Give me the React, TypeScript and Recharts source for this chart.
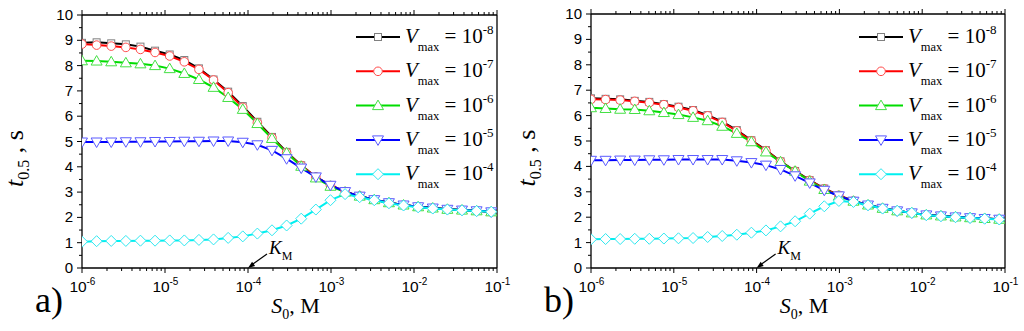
import React from 'react';
import {
  Label,
  Legend,
  Line,
  LineChart,
  ReferenceDot,
  XAxis,
  YAxis,
} from 'recharts';

// substrate concentration S0, M (same grid for both panels)
const s0 = [
  1e-6, 1.5e-6, 2.25e-6, 3.375e-6, 5.06e-6, 7.59e-6, 1.139e-5, 1.709e-5,
  2.563e-5, 3.844e-5, 5.767e-5, 8.65e-5, 1.297e-4, 1.946e-4, 2.919e-4,
  4.379e-4, 6.568e-4, 9.853e-4, 1.478e-3, 2.217e-3, 3.325e-3, 4.988e-3,
  7.482e-3, 1.122e-2, 1.683e-2, 2.525e-2, 3.788e-2, 5.682e-2, 8.523e-2,
];

// panel a) t0.5, s
const a8 = [8.9, 8.92, 8.88, 8.84, 8.75, 8.59, 8.44, 8.22, 7.89, 7.45, 6.97, 6.4, 5.78, 5.18, 4.59, 4.06, 3.6, 3.27, 3.02, 2.84, 2.7, 2.58, 2.49, 2.42, 2.37, 2.32, 2.29, 2.26, 2.22];
const a7 = [8.85, 8.81, 8.77, 8.72, 8.64, 8.52, 8.38, 8.15, 7.85, 7.43, 6.93, 6.35, 5.74, 5.15, 4.56, 4.05, 3.6, 3.26, 3.02, 2.84, 2.7, 2.58, 2.49, 2.42, 2.37, 2.32, 2.29, 2.26, 2.22];
const a6 = [8.19, 8.18, 8.15, 8.11, 8.07, 8.0, 7.88, 7.69, 7.45, 7.14, 6.74, 6.27, 5.71, 5.12, 4.55, 4.02, 3.56, 3.23, 3.0, 2.84, 2.7, 2.58, 2.49, 2.42, 2.37, 2.32, 2.29, 2.26, 2.22];
const a5 = [4.98, 4.98, 4.98, 4.99, 4.99, 5.0, 5.0, 5.01, 5.01, 5.02, 5.02, 4.97, 4.87, 4.65, 4.32, 3.95, 3.6, 3.27, 3.02, 2.84, 2.7, 2.58, 2.49, 2.42, 2.37, 2.32, 2.29, 2.26, 2.22];
const a4 = [1.04, 1.06, 1.07, 1.07, 1.08, 1.08, 1.09, 1.09, 1.11, 1.13, 1.19, 1.25, 1.36, 1.49, 1.68, 1.95, 2.31, 2.68, 2.92, 2.8, 2.68, 2.56, 2.47, 2.4, 2.35, 2.31, 2.28, 2.25, 2.22];

// panel b) t0.5, s
const b8 = [6.68, 6.66, 6.64, 6.58, 6.54, 6.45, 6.35, 6.22, 6.02, 5.76, 5.43, 5.03, 4.64, 4.2, 3.82, 3.46, 3.13, 2.86, 2.64, 2.48, 2.35, 2.25, 2.17, 2.09, 2.05, 2.01, 1.98, 1.95, 1.92];
const b7 = [6.64, 6.63, 6.61, 6.56, 6.51, 6.43, 6.32, 6.19, 5.99, 5.73, 5.4, 5.01, 4.62, 4.19, 3.81, 3.45, 3.12, 2.86, 2.64, 2.48, 2.35, 2.25, 2.17, 2.09, 2.05, 2.01, 1.98, 1.95, 1.92];
const b6 = [6.31, 6.28, 6.25, 6.24, 6.19, 6.12, 6.04, 5.93, 5.8, 5.58, 5.3, 4.97, 4.57, 4.18, 3.81, 3.42, 3.09, 2.83, 2.63, 2.48, 2.35, 2.25, 2.17, 2.09, 2.05, 2.01, 1.98, 1.95, 1.92];
const b5 = [4.24, 4.24, 4.25, 4.25, 4.26, 4.26, 4.27, 4.27, 4.27, 4.27, 4.22, 4.15, 4.05, 3.88, 3.63, 3.35, 3.06, 2.84, 2.63, 2.48, 2.35, 2.25, 2.17, 2.09, 2.05, 2.01, 1.98, 1.95, 1.92];
const b4 = [1.13, 1.14, 1.14, 1.15, 1.15, 1.16, 1.17, 1.18, 1.22, 1.26, 1.31, 1.39, 1.48, 1.64, 1.84, 2.14, 2.43, 2.64, 2.6, 2.47, 2.34, 2.25, 2.17, 2.08, 2.04, 2.0, 1.97, 1.94, 1.91];

const decades = [1e-6, 1e-5, 1e-4, 1e-3, 1e-2, 1e-1];
const xTicks = decades.flatMap((d, i) =>
  i === decades.length - 1 ? [d] : [1, 2, 3, 4, 5, 6, 7, 8, 9].map((m) => d * m)
);
const yTicks = [0, 0.5, 1, 1.5, 2, 2.5, 3, 3.5, 4, 4.5, 5, 5.5, 6, 6.5, 7, 7.5, 8, 8.5, 9, 9.5, 10];
const exponents = ['-8', '-7', '-6', '-5', '-4'];
const KM = 1e-4;

const SANS = '"Liberation Sans", Arial, sans-serif';
const SERIF = '"Liberation Serif", "Times New Roman", serif';

const Square = ({ cx, cy }: any) => (
  <rect x={cx - 3.5} y={cy - 3.5} width={7} height={7} fill="#fff" stroke="#808080" strokeWidth={1} />
);
const Circle = ({ cx, cy }: any) => (
  <circle cx={cx} cy={cy} r={4.3} fill="#fff" stroke="#ff4d4d" strokeWidth={1} />
);
const TriUp = ({ cx, cy }: any) => (
  <polygon points={`${cx},${cy - 5.5} ${cx + 5.5},${cy + 4} ${cx - 5.5},${cy + 4}`} fill="#fff" stroke="#44e044" strokeWidth={1} />
);
const TriDown = ({ cx, cy }: any) => (
  <polygon points={`${cx - 5.5},${cy - 4} ${cx + 5.5},${cy - 4} ${cx},${cy + 5.5}`} fill="#fff" stroke="#5a5aff" strokeWidth={1} />
);
const Diamond = ({ cx, cy }: any) => (
  <polygon points={`${cx},${cy - 5.5} ${cx + 5.5},${cy} ${cx},${cy + 5.5} ${cx - 5.5},${cy}`} fill="#fff" stroke="#2ee8f0" strokeWidth={1} />
);

const series = [
  { key: 'v8', color: '#000000', Marker: Square },
  { key: 'v7', color: '#ff0000', Marker: Circle },
  { key: 'v6', color: '#00dd00', Marker: TriUp },
  { key: 'v5', color: '#0000ff', Marker: TriDown },
  { key: 'v4', color: '#00f0f0', Marker: Diamond },
];

const isDecade = (v: number) => Math.abs(Math.log10(v) - Math.round(Math.log10(v))) < 1e-6;

const XTick = ({ x, y, payload, side }: any) => {
  const v = payload.value;
  const major = isDecade(v);
  const len = major ? 5 : 3;
  const dir = side === 'top' ? -1 : 1;
  return (
    <g>
      <line x1={x} y1={y} x2={x} y2={y + dir * len} stroke="#000" strokeWidth={1} />
      {major && side === 'bottom' && (
        <g fontFamily={SANS} fill="#000">
          <text x={x - 4} y={y + 24} textAnchor="middle" fontSize={15.5}>10</text>
          <text x={x + 4.5} y={y + 17} textAnchor="start" fontSize={10}>
            {String(Math.round(Math.log10(v)))}
          </text>
        </g>
      )}
    </g>
  );
};

const YTick = ({ x, y, payload, side }: any) => {
  const v = payload.value;
  const major = Number.isInteger(v);
  const len = major ? 5 : 3;
  const dir = side === 'right' ? 1 : -1;
  return (
    <g>
      <line x1={x} y1={y} x2={x + dir * len} y2={y} stroke="#000" strokeWidth={1} />
      {major && side === 'left' && (
        <text x={x - 9} y={y + 5} textAnchor="end" fontSize={15} fontFamily={SANS} fill="#000">
          {v}
        </text>
      )}
    </g>
  );
};

const KmArrow = ({ cx, cy }: any) => (
  <g>
    <line x1={cx + 5} y1={cy - 4} x2={cx + 19} y2={cy - 14} stroke="#000" strokeWidth={1.2} />
    <polygon points={`${cx},${cy} ${cx + 7.1},${cy - 2.1} ${cx + 4.1},${cy - 6.2}`} fill="#000" />
    <text x={cx + 21} y={cy - 14} fontFamily={SERIF} fontSize={19} fill="#000">
      <tspan fontStyle="italic">K</tspan>
      <tspan fontSize={12} dy={6}>M</tspan>
    </text>
  </g>
);

const LegendBox = () => (
  <svg width={165} height={175} style={{ overflow: 'visible' }}>
    {series.map((s, i) => {
      const y = 17 + i * 34.3;
      const M = s.Marker;
      return (
        <g key={s.key}>
          <line x1={6} y1={y} x2={50} y2={y} stroke={s.color} strokeWidth={2} />
          <M cx={28} cy={y} />
          <text x={55} y={y + 6} fontFamily={SERIF} fontSize={21} fill="#000">
            <tspan fontStyle="italic">V</tspan>
            <tspan fontSize={12.5} dy={8}>max</tspan>
            <tspan dy={-8}> = 10</tspan>
            <tspan fontSize={13} dy={-9}>{exponents[i]}</tspan>
          </text>
        </g>
      );
    })}
  </svg>
);

interface PanelProps {
  tag: string;
  values: number[][];
  left: number;
  right: number;
  top: number;
  legendLeft: number;
}

function Panel({ tag, values, left, right, top, legendLeft }: PanelProps) {
  const data = s0.map((x, i) => ({
    x,
    v8: values[0][i],
    v7: values[1][i],
    v6: values[2][i],
    v5: values[3][i],
    v4: values[4][i],
  }));

  return (
    <LineChart
      width={512}
      height={331}
      data={data}
      margin={{ top: 0, right: 0, bottom: 0, left: 0 }}
      style={{ overflow: 'visible' }}
    >
      <XAxis
        xAxisId="b"
        dataKey="x"
        type="number"
        scale="log"
        domain={[1e-6, 1e-1]}
        allowDataOverflow
        ticks={xTicks}
        interval={0}
        height={63}
        tickSize={0}
        tickMargin={0}
        tickLine={false}
        axisLine={{ stroke: '#000', strokeWidth: 1.3 }}
        tick={<XTick side="bottom" />}
      >
        <Label
          content={({ viewBox }: any) => (
            <g fill="#000" fontFamily={SERIF}>
              <text x={viewBox.x + viewBox.width / 2 + 6} y={viewBox.y + 45} textAnchor="middle" fontSize={22}>
                <tspan fontStyle="italic">S</tspan>
                <tspan fontSize={14} dy={6}>0</tspan>
                <tspan dy={-6}>, M</tspan>
              </text>
              <text x={viewBox.x - 47} y={viewBox.y + 44} fontSize={36}>
                {tag}
              </text>
            </g>
          )}
        />
      </XAxis>
      <XAxis
        xAxisId="t"
        orientation="top"
        dataKey="x"
        type="number"
        scale="log"
        domain={[1e-6, 1e-1]}
        allowDataOverflow
        ticks={xTicks}
        interval={0}
        height={top}
        tickSize={0}
        tickMargin={0}
        tickLine={false}
        axisLine={{ stroke: '#000', strokeWidth: 1.3 }}
        tick={<XTick side="top" />}
      />
      <YAxis
        yAxisId="l"
        domain={[0, 10]}
        ticks={yTicks}
        interval={0}
        width={left}
        tickSize={0}
        tickMargin={0}
        tickLine={false}
        axisLine={{ stroke: '#000', strokeWidth: 1.3 }}
        tick={<YTick side="left" />}
      >
        <Label
          content={({ viewBox }: any) => (
            <text
              transform={`translate(${viewBox.x + 23},${viewBox.y + viewBox.height / 2 + 17}) rotate(-90)`}
              textAnchor="middle"
              fontFamily={SERIF}
              fontSize={26}
              fill="#000"
            >
              <tspan fontStyle="italic">t</tspan>
              <tspan fontSize={16} dy={6}>0.5</tspan>
              <tspan dy={-6}> , s</tspan>
            </text>
          )}
        />
      </YAxis>
      <YAxis
        yAxisId="r"
        orientation="right"
        domain={[0, 10]}
        ticks={yTicks}
        interval={0}
        width={right}
        tickSize={0}
        tickMargin={0}
        tickLine={false}
        axisLine={{ stroke: '#000', strokeWidth: 1.3 }}
        tick={<YTick side="right" />}
      />
      {series.map((s) => {
        const M = s.Marker;
        return (
          <Line
            key={s.key}
            xAxisId="b"
            yAxisId="l"
            dataKey={s.key}
            stroke={s.color}
            strokeWidth={2}
            type="linear"
            isAnimationActive={false}
            activeDot={false}
            dot={(p: any) => <M key={`${s.key}-${p.index}`} cx={p.cx} cy={p.cy} />}
          />
        );
      })}
      <ReferenceDot xAxisId="b" yAxisId="l" x={KM} y={0} ifOverflow="visible" shape={<KmArrow />} />
      <Legend
        layout="vertical"
        align="center"
        verticalAlign="middle"
        content={() => <LegendBox />}
        wrapperStyle={{ left: legendLeft, top: 20, width: 165, height: 175 }}
      />
    </LineChart>
  );
}

export default function App() {
  return (
    <div
      style={{
        position: 'absolute',
        left: 0,
        top: 0,
        width: 1024,
        height: 331,
        display: 'flex',
        background: '#fff',
      }}
    >
      <Panel tag="a)" values={[a8, a7, a6, a5, a4]} left={82} right={15} top={15} legendLeft={350} />
      <Panel tag="b)" values={[b8, b7, b6, b5, b4]} left={79} right={19} top={14} legendLeft={341} />
    </div>
  );
}
